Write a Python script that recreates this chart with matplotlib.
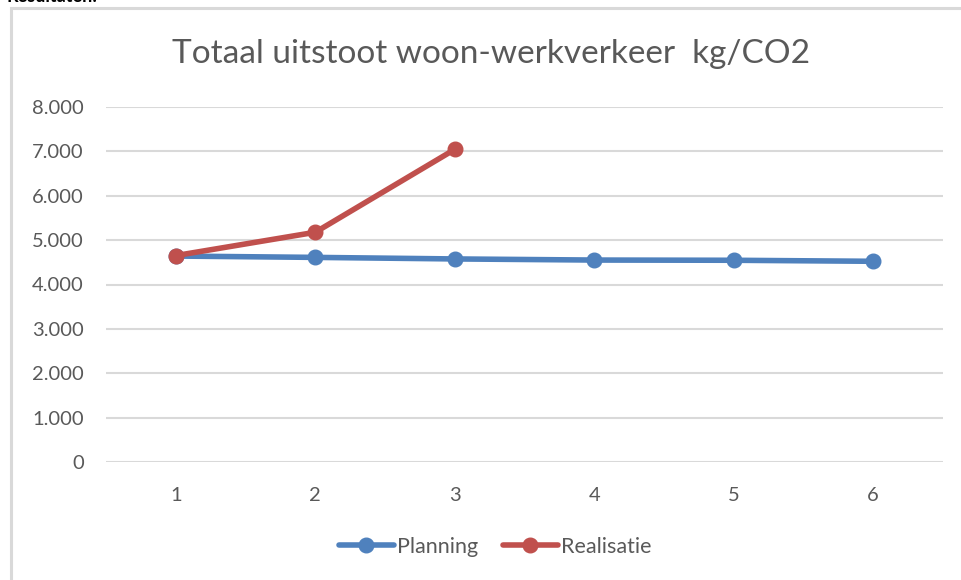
import matplotlib
matplotlib.use("Agg")
import matplotlib.pyplot as plt
from matplotlib.patches import Rectangle
from matplotlib.ticker import FuncFormatter

categories = [1, 2, 3, 4, 5, 6]
planning = [4640, 4610, 4575, 4550, 4545, 4522]
realisatie_x = [1, 2, 3]
realisatie = [4650, 5175, 7040]
title = "Totaal uitstoot woon-werkverkeer  kg/CO2"
yticks = [0, 1000, 2000, 3000, 4000, 5000, 6000, 7000, 8000]

W, H = 962, 580
plt.rcParams['font.family'] = ['Lato', 'DejaVu Sans']
fig = plt.figure(figsize=(W / 100, H / 100), dpi=100)
fig.patch.set_facecolor('white')

# chart border (extends past the right/bottom edges)
fig.patches.append(Rectangle((11 / W, -0.05), 1.2, 1 - 8 / H + 0.05,
                             transform=fig.transFigure, fill=False,
                             edgecolor='#D9D9D9', linewidth=2.2, zorder=0))

# clipped heading above the chart
fig.text(7 / W, 1 - 2 / H, "Resultaten:", fontsize=13, fontweight='bold',
         color='black', va='baseline', ha='left')

ax = fig.add_axes([106 / W, 1 - 462.3 / H, 837 / W, (462.3 - 106.7) / H])
blue = '#4F81BD'
red = '#C0504D'
ax.plot(categories, planning, color=blue, linewidth=4, marker='o',
        markersize=10.5, label='Planning', zorder=3, solid_capstyle='round')
ax.plot(realisatie_x, realisatie, color=red, linewidth=4, marker='o',
        markersize=10.5, label='Realisatie', zorder=4, solid_capstyle='round')

ax.set_xlim(0.5, 6.5)
ax.set_ylim(0, 8000)
ax.set_yticks(yticks)
ax.yaxis.set_major_formatter(FuncFormatter(lambda v, p: f"{int(v):,}".replace(",", ".")))
ax.set_xticks(categories)
ax.grid(axis='y', color='#D9D9D9', linewidth=1.5)
ax.set_axisbelow(True)
for s in ax.spines.values():
    s.set_visible(False)
ax.tick_params(axis='both', length=0, labelsize=14.5, colors='#595959')
ax.tick_params(axis='y', pad=16)
ax.tick_params(axis='x', pad=18)

fig.text(491 / W, 1 - 54 / H, title, fontsize=24, color='#595959',
         ha='center', va='center')

leg = fig.legend(loc='center', bbox_to_anchor=(495 / W, 1 - 547 / H),
                 ncol=2, frameon=False, fontsize=15.5, handlelength=2.55,
                 handletextpad=0.15, columnspacing=1.15)
for t in leg.get_texts():
    t.set_color('#595959')

fig.savefig("out.png", dpi=100, facecolor='white')
